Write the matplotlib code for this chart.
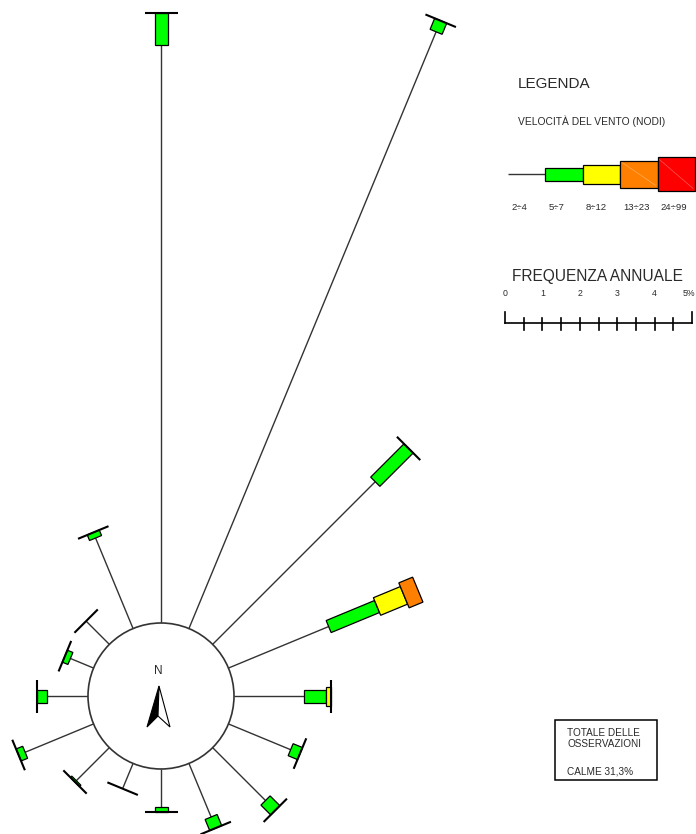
import numpy as np
import matplotlib
matplotlib.use("Agg")
import matplotlib.pyplot as plt
from matplotlib.patches import Polygon, Circle, Rectangle

plt.rcParams['font.family'] = ['Liberation Sans', 'DejaVu Sans']

# ---- data: annual wind frequency (%) by direction and speed class ----
directions = ["N", "NNE", "NE", "ENE", "E", "ESE", "SE", "SSE",
              "S", "SSW", "SW", "WSW", "W", "WNW", "NW", "NNW"]
speed_classes = ["2÷4", "5÷7", "8÷12", "13÷23", "24÷99"]
freq_2_4 = [15.45, 17.27, 6.15, 2.90, 1.87, 1.80, 2.00, 1.55,
            1.02, 0.73, 1.25, 1.98, 1.10, 0.67, 0.88, 2.62]
freq_5_7 = [0.86, 0.32, 1.26, 1.40, 0.59, 0.27, 0.37, 0.32,
            0.13, 0.00, 0.05, 0.19, 0.27, 0.16, 0.00, 0.16]
freq_8_12 = [0.00, 0.00, 0.00, 0.78, 0.13, 0.00, 0.00, 0.00,
             0.00, 0.00, 0.00, 0.00, 0.00, 0.00, 0.00, 0.00]
freq_13_23 = [0.00, 0.00, 0.00, 0.40, 0.00, 0.00, 0.00, 0.00,
              0.00, 0.00, 0.00, 0.00, 0.00, 0.00, 0.00, 0.00]
freq_24_99 = [0.00, 0.00, 0.00, 0.00, 0.00, 0.00, 0.00, 0.00,
              0.00, 0.00, 0.00, 0.00, 0.00, 0.00, 0.00, 0.00]
calm_pct = 31.3
scale_ticks = [0, 1, 2, 3, 4, 5]

# ---- styling ----
class_colors = [None, "#00ff00", "#ffff00", "#ff8000", "#ff0000"]
W_PX, H_PX = 696, 834
PX = 37.4                      # pixels per 1 % of frequency
CX, CY = 161, 696              # rose centre (pixels from top-left)
class_width = np.array([0, 13, 19, 27, 34]) / PX
CAP = 33 / PX
R0 = 73 / PX                   # calm circle radius
LINE_C = "#333333"
TXT_C = "#2a2a2a"


def P(x, y):
    """pixel position (from top-left) -> data coordinates"""
    return ((x - CX) / PX, (CY - y) / PX)


fig = plt.figure(figsize=(W_PX / 100, H_PX / 100), dpi=100)
ax = fig.add_axes([0, 0, 1, 1])
ax.set_xlim(-CX / PX, (W_PX - CX) / PX)
ax.set_ylim(-(H_PX - CY) / PX, CY / PX)
ax.axis('off')


def draw_spoke(origin, angle_deg, freqs, r_start, cap=True):
    th = np.deg2rad(angle_deg)
    u = np.array([np.sin(th), np.cos(th)])
    n = np.array([np.cos(th), -np.sin(th)])
    o = np.array(origin)
    r = r_start
    top = -1
    for k, f in enumerate(freqs):
        if f <= 0:
            continue
        a, b = o + u * r, o + u * (r + f)
        if k == 0:
            ax.plot([a[0], b[0]], [a[1], b[1]], color=LINE_C, lw=1.0,
                    zorder=2, solid_capstyle='butt')
        else:
            h = n * class_width[k] / 2
            ax.add_patch(Polygon([a + h, b + h, b - h, a - h], closed=True,
                                 facecolor=class_colors[k], edgecolor='black',
                                 lw=0.9, zorder=3 + k * 0.01))
        r += f
        top = k
    if cap and top < 3:
        t = o + u * r
        h = n * CAP / 2
        ax.plot([t[0] - h[0], t[0] + h[0]], [t[1] - h[1], t[1] + h[1]],
                color='black', lw=1.5, zorder=4, solid_capstyle='butt')
    return r


# ---- wind rose ----
table = np.array([freq_2_4, freq_5_7, freq_8_12, freq_13_23, freq_24_99]).T
angles = np.arange(len(directions)) * 360 / len(directions)
for ang, row in zip(angles, table):
    draw_spoke((0, 0), ang, row, R0)

ax.add_patch(Circle((0, 0), R0, facecolor='white', edgecolor=LINE_C,
                    lw=1.2, zorder=5))

# north arrow
ax.text(*P(158, 671), "N", ha='center', va='center', fontsize=8.5,
        color=TXT_C, zorder=6)
tip, left, notch, right = P(159, 686), P(147, 727), P(158, 716), P(170, 727)
ax.add_patch(Polygon([tip, left, notch], closed=True, facecolor='black',
                     edgecolor='black', lw=0.8, zorder=6))
ax.add_patch(Polygon([tip, notch, right], closed=True, facecolor='white',
                     edgecolor='black', lw=0.8, zorder=6))

# ---- legend ----
ax.text(*P(518, 84), "LEGENDA", ha='left', va='center', fontsize=11,
        color=TXT_C)
ax.text(*P(518, 121), "VELOCITÀ DEL VENTO (NODI)", ha='left', va='center',
        fontsize=7.4, color=TXT_C)

leg_origin = P(508, 174)
draw_spoke(leg_origin, 90, [1] * len(speed_classes), 0, cap=False)
for k, lab in enumerate(speed_classes):
    x0 = leg_origin[0] + k
    ax.text(x0 + 0.08, P(0, 208)[1], lab, ha='left', va='center',
            fontsize=6.8, color=TXT_C)
    if k >= 3:
        h = class_width[k] / 2
        ax.plot([x0 + 0.05, x0 + 0.95], [leg_origin[1] + h * 0.85,
                                         leg_origin[1] - h * 0.85],
                color='white', lw=0.5, alpha=0.35, zorder=4)

ax.text(*P(512, 277), "FREQUENZA ANNUALE", ha='left', va='center',
        fontsize=11.2, color=TXT_C)

s0 = np.array(P(505, 323))
ax.plot([s0[0], s0[0] + scale_ticks[-1]], [s0[1], s0[1]], color='black',
        lw=1.2, zorder=3)
for v in np.arange(0, scale_ticks[-1] + 0.01, 0.5):
    if v in (0, scale_ticks[-1]):
        y0, y1 = s0[1], s0[1] + 11 / PX
    else:
        y0, y1 = s0[1] + 5 / PX, s0[1] - 7 / PX
    ax.plot([s0[0] + v, s0[0] + v], [y0, y1], color='black', lw=1.2,
            zorder=3)
for v in scale_ticks:
    last = v == scale_ticks[-1]
    lab = f"{v}%" if last else f"{v}"
    x = P(695, 0)[0] if last else s0[0] + v
    ax.text(x, P(0, 294)[1], lab, ha='right' if last else 'center',
            va='center', fontsize=6.3, color=TXT_C)

# ---- totals box ----
bx, by = P(555, 780)
ax.add_patch(Rectangle((bx, by), 102 / PX, 60 / PX, facecolor='white',
                       edgecolor='black', lw=1.1, zorder=3))
ax.text(*P(567, 733), "TOTALE DELLE", ha='left', va='center', fontsize=7.2,
        color=TXT_C, zorder=4)
ax.text(*P(567, 744), "OSSERVAZIONI", ha='left', va='center', fontsize=7.2,
        color=TXT_C, zorder=4)
ax.text(*P(567, 772), f"CALME {calm_pct:.1f}%".replace('.', ','), ha='left',
        va='center', fontsize=7.2, color=TXT_C, zorder=4)

fig.savefig("out.png", dpi=100)
